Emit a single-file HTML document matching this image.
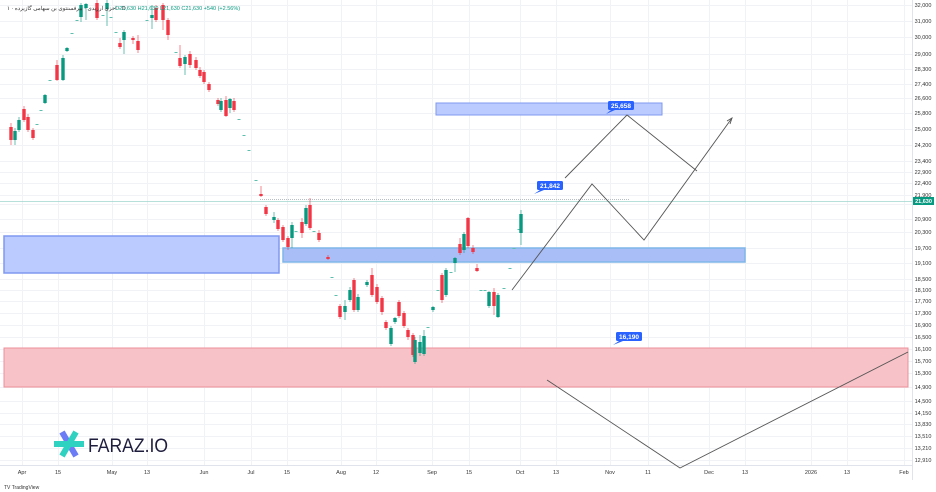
<!DOCTYPE html>
<html><head><meta charset="utf-8"><style>
html,body{margin:0;padding:0;background:#fff;width:936px;height:492px;overflow:hidden;font-family:"Liberation Sans",sans-serif}
</style></head><body>
<svg id="s" width="936" height="492" xmlns="http://www.w3.org/2000/svg" font-family="Liberation Sans, sans-serif">
<rect width="936" height="492" fill="#fff"/>
<g id="grid" stroke="#f0f2f5" stroke-width="1"></g>
<line x1="0" y1="465.5" x2="912" y2="465.5" stroke="#e0e3eb"/>
<line x1="912.5" y1="0" x2="912.5" y2="480" stroke="#e0e3eb"/>
<rect x="4" y="236" width="275" height="37" fill="#bccbff" stroke="#7f98f0" stroke-width="1.5"/>
<rect x="283" y="248" width="462" height="14" fill="#a9bdf7" stroke="#7fb6e8" stroke-width="1.5"/>
<rect x="436" y="103" width="226" height="12" fill="#bccbff" stroke="#7f98f0" stroke-width="1"/>
<rect x="4" y="348" width="904" height="39" fill="#f8c3c8" stroke="#ee8f98" stroke-width="1"/>
<line x1="260" y1="199.5" x2="630" y2="199.5" stroke="#b8bcc4" stroke-dasharray="1,1"/>
<line x1="0" y1="201.5" x2="912" y2="201.5" stroke="#9ed6cc" stroke-width="0.8"/>
<g id="c"></g>
<g fill="none" stroke="#555" stroke-width="0.9">
<polyline points="565,178 627,115 697,171"/>
<polyline points="512,290 592,184 644,240 732,118"/>
<polyline points="727,121 732,118 730,124"/>
<polyline points="547,380 680,468 908,352"/>
</g>
<g font-size="6.5" font-weight="bold" fill="#fff">
<rect x="608" y="101" width="26" height="9" rx="1.5" fill="#2962ff"/><polygon points="611,110 615,110 606,114" fill="#2962ff"/><text x="621" y="108" text-anchor="middle">25,658</text>
<rect x="537" y="181" width="26" height="9" rx="1.5" fill="#2962ff"/><polygon points="540,190 544,190 534,194" fill="#2962ff"/><text x="550" y="188" text-anchor="middle">21,842</text>
<rect x="616" y="332" width="26" height="9" rx="1.5" fill="#2962ff"/><polygon points="619,341 623,341 613,345" fill="#2962ff"/><text x="629" y="339" text-anchor="middle">16,190</text>
</g>
<g id="ylab" font-size="5.5" fill="#333" text-anchor="middle"></g>
<rect x="913" y="197" width="21" height="8" fill="#089981"/><text x="923.5" y="203" font-size="5.5" fill="#fff" text-anchor="middle" font-weight="bold">21,630</text>
<g id="xlab" font-size="5.5" fill="#333" text-anchor="middle"></g>
<text x="7" y="10" font-size="5.5" fill="#333" font-family="Liberation Sans, Noto Sans CJK SC, sans-serif">۱ · اخزی ارزیدی · بیرفسنتوی بن سهامی گازیرده · D</text>
<text x="115" y="10" font-size="5.5" fill="#089981">O21,630 H21,630 L21,630 C21,630 +540 (+2.56%)</text>
<g transform="translate(52,428)">
<g stroke-width="6" stroke-linecap="butt">
<line x1="10" y1="4" x2="24" y2="28" stroke="#6b7cf5"/>
<line x1="24" y1="4" x2="10" y2="28" stroke="#2fd1c0"/>
<line x1="2" y1="16" x2="32" y2="16" stroke="#2fd1c0"/>
</g>
<text x="36" y="24" font-size="19" fill="#1f1d3d" textLength="80" lengthAdjust="spacingAndGlyphs">FARAZ.IO</text>
</g>
<text x="4" y="489" font-size="5" fill="#333">TV TradingView</text>
</svg>
<script>
var NS="http://www.w3.org/2000/svg";
function el(p,t,a,txt){var e=document.createElementNS(NS,t);for(var k in a)e.setAttribute(k,a[k]);if(txt)e.textContent=txt;document.getElementById(p).appendChild(e);}
var ys=[[5,"32,000"],[21,"31,000"],[37,"30,000"],[54,"29,000"],[69,"28,300"],[84,"27,400"],[98,"26,600"],[113,"25,800"],[129,"25,000"],[145,"24,200"],[161,"23,400"],[172,"22,900"],[183,"22,400"],[195,"21,900"],[204,"21,400"],[219,"20,900"],[232,"20,300"],[248,"19,700"],[263,"19,100"],[279,"18,500"],[290,"18,100"],[301,"17,700"],[313,"17,300"],[325,"16,900"],[337,"16,500"],[349,"16,100"],[361,"15,700"],[373,"15,300"],[387,"14,900"],[401,"14,500"],[413,"14,150"],[424,"13,830"],[436,"13,510"],[448,"13,210"],[460,"12,910"]];
ys.forEach(function(y){el("grid","line",{x1:0,x2:912,y1:y[0]+.5,y2:y[0]+.5});if(y[1]!="21,400")el("ylab","text",{x:923,y:y[0]+2},y[1]);});
var xs=[[22,"Apr"],[58,"15"],[112,"May"],[147,"13"],[204,"Jun"],[251,"Jul"],[287,"15"],[341,"Aug"],[376,"12"],[432,"Sep"],[469,"15"],[520,"Oct"],[556,"13"],[610,"Nov"],[648,"11"],[709,"Dec"],[745,"13"],[811,"2026"],[847,"13"],[904,"Feb"]];
xs.forEach(function(x){el("grid","line",{x1:x[0]+.5,x2:x[0]+.5,y1:0,y2:465});el("xlab","text",{x:x[0],y:474},x[1]);});
var C=[[11,'r',127,140,123,145],[15,'g',131,140,128,145],[19,'g',120,130,117,132],[24,'r',109,120,106,122],[28,'r',117,130,114,132],[33,'r',130,138,128,140],[37,'d',124,125],[41,'d',110,111],[45,'g',95,103,94,104],[50,'d',80,81],[57,'r',65,80,60,81],[63,'g',58,80,55,81],[67,'g',48,51,47,52],[72,'d',33,34],[77,'d',20,21],[81,'g',5,17,3,22],[86,'g',4,8,3,20],[97,'r',3,18,0,20],[103,'d',15,16],[107,'g',3,9,0,26],[111,'d',17,18],[116,'d',32,33],[120,'r',43,47,38,49],[124,'g',32,40,30,54],[133,'r',38,40,36,44],[138,'r',41,50,35,53],[147,'d',20,21],[152,'g',15,18,5,29],[156,'r',8,20,5,22],[163,'r',5,20,3,30],[168,'r',20,35,18,40],[176,'d',52,53],[180,'r',58,66,45,68],[185,'g',57,64,55,75],[190,'r',54,65,51,68],[196,'r',60,68,57,70],[200,'r',70,76,67,78],[204,'r',72,82,70,84],[209,'r',84,90,82,92],[218,'r',100,104,98,106],[221,'g',101,110,98,112],[226,'r',100,116,96,117],[230,'g',99,108,98,113],[234,'r',101,110,98,112],[239,'d',119,120],[244,'d',135,136],[249,'d',150,151],[256,'d',180,181],[261,'r',194,196,186,197],[266,'r',207,214,205,216],[274,'g',217,220,212,223],[278,'r',220,229,218,231],[283,'r',227,240,225,242],[288,'r',238,247,236,250],[292,'g',225,238,222,248],[296,'d',231,232],[302,'r',222,233,218,238],[306,'g',208,224,205,226],[310,'r',205,228,198,230],[314,'d',231,232],[319,'r',233,240,230,242],[328,'r',257,259,255,260],[332,'d',277,278],[336,'d',295,296],[340,'r',306,317,304,319],[345,'g',306,312,300,320],[350,'g',290,300,287,302],[354,'r',280,310,278,312],[358,'g',297,310,294,312],[367,'g',282,285,280,287],[372,'r',275,295,268,297],[377,'r',287,302,284,304],[382,'r',298,312,296,315],[386,'r',322,328,320,330],[391,'g',328,344,326,346],[395,'g',318,322,317,324],[399,'r',302,316,300,318],[404,'r',313,326,311,328],[408,'r',330,337,328,340],[413,'r',335,355,333,357],[415,'g',340,362,337,364],[420,'g',342,353,335,356],[424,'g',336,354,330,356],[428,'d',327,328],[433,'g',307,310,306,312],[438,'d',290,291],[442,'r',275,300,273,303],[446,'g',270,295,268,297],[451,'d',272,273],[455,'g',258,263,257,272],[460,'r',244,253,238,255],[464,'g',234,250,232,253],[468,'r',218,246,217,248],[473,'r',248,252,245,254],[477,'r',268,271,264,272],[481,'d',290,291],[485,'d',290,291],[489,'g',292,306,291,308],[494,'r',292,306,288,315],[498,'g',295,317,293,318],[504,'d',288,289],[510,'d',268,269],[514,'d',248,249],[519,'d',229,230],[521,'g',214,233,210,245]];
C.forEach(function(c){var col=c[1]=='r'?'#f23645':'#089981';
 if(c[1]=='d'){el("c","line",{x1:c[0]-1.5,x2:c[0]+1.5,y1:c[2]+.5,y2:c[2]+.5,stroke:'#5cbfae','stroke-width':1});return;}
 el("c","line",{x1:c[0],x2:c[0],y1:c[4],y2:c[5],stroke:col,'stroke-width':1,opacity:.6});
 el("c","rect",{x:c[0]-1.7,y:c[2],width:3.4,height:Math.max(1,c[3]-c[2]),fill:col});});
</script>
</body></html>
